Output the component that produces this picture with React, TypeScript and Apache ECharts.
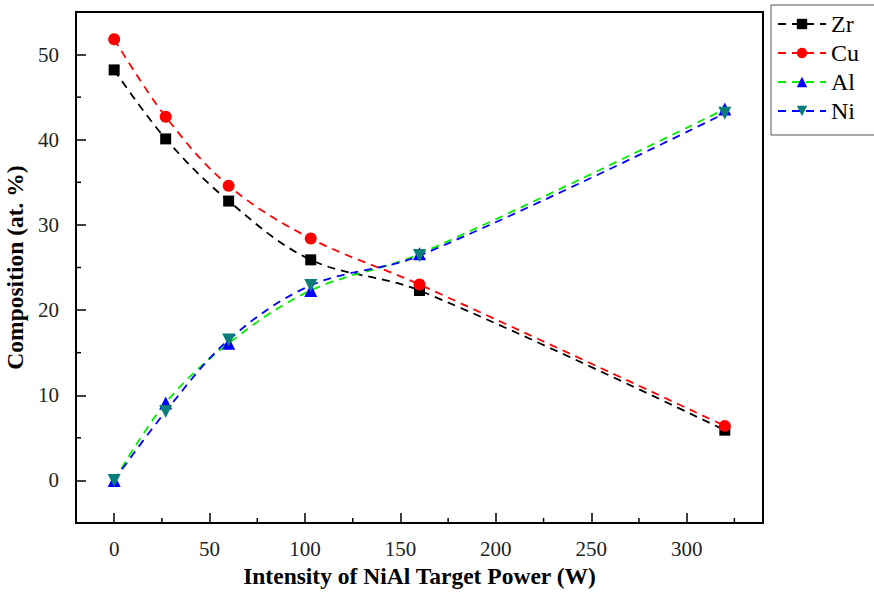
import React, { useEffect, useRef } from "react";
import * as echarts from "echarts";

const powerW = [0, 27, 60, 103, 160, 320];
const zrValues = [48.2, 40.1, 32.8, 25.9, 22.3, 5.9];
const cuValues = [51.8, 42.7, 34.6, 28.4, 23.0, 6.4];
const alValues = [0, 9.1, 16.1, 22.3, 26.6, 43.6];
const niValues = [0, 8.1, 16.5, 22.9, 26.4, 43.1];

const xMinorTicks = [25, 75, 125, 175, 225, 275, 325];
const yMinorTicks = [5, 15, 25, 35, 45];

const X_MIN = -20;
const X_MAX = 340;
const Y_MIN = -5;
const Y_MAX = 55;

const FONT = "'Liberation Serif', 'Times New Roman', serif";

const pairs = (vals: number[]) => powerW.map((x, i) => [x, vals[i]]);

const dashed = (color: string) => ({
  color,
  width: 1.8,
  type: [8, 6] as number[],
});

export default function App() {
  const ref = useRef<HTMLDivElement>(null);

  useEffect(() => {
    const chart = echarts.init(ref.current!, null, { renderer: "svg" });

    const lineSeries = (
      name: string,
      vals: number[],
      lineColor: string,
      symbol: string,
      symbolColor: string,
      symbolSize: number,
      symbolRotate = 0
    ) => ({
      name,
      type: "line",
      data: pairs(vals),
      smooth: 0.35,
      symbol,
      symbolSize,
      symbolRotate,
      lineStyle: dashed(lineColor),
      itemStyle: { color: symbolColor },
      color: lineColor,
      z: 3,
    });

    chart.setOption({
      animation: false,
      backgroundColor: "#fff",
      grid: {
        left: 76,
        right: 111,
        top: 12,
        bottom: 69,
        containLabel: false,
        outerBoundsMode: "none",
        show: true,
        borderColor: "#000",
        borderWidth: 2,
        backgroundColor: "transparent",
      },
      legend: {
        orient: "vertical",
        left: 771,
        top: 5,
        padding: [7, 40, 12, 6],
        itemWidth: 48,
        itemHeight: 13,
        itemGap: 5,
        borderColor: "#555",
        borderWidth: 1,
        data: ["Zr", "Cu", "Al", "Ni"],
        textStyle: { fontFamily: FONT, fontSize: 24, color: "#000", lineHeight: 24 },
      },
      xAxis: {
        type: "value",
        min: X_MIN,
        max: X_MAX,
        splitNumber: 7,
        name: "Intensity of NiAl Target Power (W)",
        nameLocation: "middle",
        nameGap: 40,
        nameTextStyle: { fontFamily: FONT, fontSize: 23.5, fontWeight: "bold", color: "#000" },
        axisLine: { show: true, onZero: false, lineStyle: { color: "#000", width: 2 } },
        axisTick: { show: true, inside: true, length: 10, lineStyle: { color: "#000", width: 1.5 } },
        axisLabel: {
          fontFamily: FONT,
          fontSize: 21,
          color: "#222",
          margin: 15,
          showMinLabel: false,
          showMaxLabel: false,
        },
        splitLine: { show: false },
      },
      yAxis: {
        type: "value",
        min: Y_MIN,
        max: Y_MAX,
        splitNumber: 6,
        name: "Composition (at. %)",
        nameLocation: "middle",
        nameGap: 44,
        nameRotate: 90,
        nameTextStyle: { fontFamily: FONT, fontSize: 23.5, fontWeight: "bold", color: "#000" },
        axisLine: { show: true, onZero: false, lineStyle: { color: "#000", width: 2 } },
        axisTick: { show: true, inside: true, length: 10, lineStyle: { color: "#000", width: 1.5 } },
        axisLabel: {
          fontFamily: FONT,
          fontSize: 21,
          color: "#222",
          margin: 17,
          showMinLabel: false,
          showMaxLabel: false,
        },
        splitLine: { show: false },
      },
      series: [
        lineSeries("Zr", zrValues, "#000000", "rect", "#000000", 11),
        lineSeries("Cu", cuValues, "#ff0000", "circle", "#ff0000", 12),
        lineSeries("Al", alValues, "#00ee00", "triangle", "#0000ff", 13),
        lineSeries("Ni", niValues, "#0000ff", "triangle", "#0a7d7a", 13, 180),
        {
          type: "custom",
          name: "xMinor",
          silent: true,
          clip: false,
          data: xMinorTicks.map((v) => [v, Y_MIN]),
          renderItem: (params: any, api: any) => {
            const p = api.coord([api.value(0), api.value(1)]);
            return {
              type: "line",
              shape: { x1: p[0], y1: p[1], x2: p[0], y2: p[1] - 5 },
              style: { stroke: "#000", lineWidth: 1.5 },
            };
          },
          z: 5,
        },
        {
          type: "custom",
          name: "yMinor",
          silent: true,
          clip: false,
          data: yMinorTicks.map((v) => [X_MIN, v]),
          renderItem: (params: any, api: any) => {
            const p = api.coord([api.value(0), api.value(1)]);
            return {
              type: "line",
              shape: { x1: p[0], y1: p[1], x2: p[0] + 5, y2: p[1] },
              style: { stroke: "#000", lineWidth: 1.5 },
            };
          },
          z: 5,
        },
      ],
    });

    return () => chart.dispose();
  }, []);

  return (
    <div
      ref={ref}
      style={{ position: "fixed", left: 0, top: 0, width: 874, height: 592, background: "#fff" }}
    />
  );
}
